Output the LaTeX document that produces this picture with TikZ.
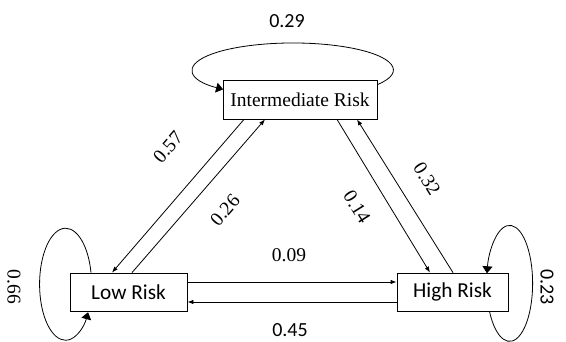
\documentclass[tikz,border=0pt]{standalone}
\usepackage{fontspec}
\setmainfont{Liberation Serif}
\newfontfamily\carlitofont{Carlito}
\usetikzlibrary{arrows.meta}
\begin{document}
\begin{tikzpicture}[x=1pt,y=1pt,
  box/.style={draw, line width=0.8pt, fill=white, inner sep=0pt, minimum height=38pt},
  serif/.style={font=\fontsize{19.5}{22}\selectfont},
  sans/.style={font=\carlitofont\fontsize{20}{22}\selectfont},
  bigsans/.style={font=\carlitofont\fontsize{21.3}{23}\selectfont},
  arr/.style={line width=0.8pt, -{Latex[length=6pt,width=4.5pt]}},
  looparr/.style={line width=0.8pt, -{Triangle[length=7pt,width=10pt]}},
  lbl/.style={inner sep=0pt}]
\useasboundingbox (0,0) rectangle (566,341);
\node[box, serif, minimum width=154pt, minimum height=39pt] (inter) at (300,241.5) {Intermediate Risk};
\node[box, bigsans, minimum width=117pt] (low) at (128.5,49) {Low Risk};
\node[box, bigsans, minimum width=111pt] (high) at (452.5,49) {High Risk};
% transitions
\draw[arr] ([xshift=-56pt]inter.south) -- ([xshift=-16.5pt]low.north);
\draw[arr] ([xshift=3.5pt]low.north) -- ([xshift=-35pt]inter.south);
\draw[arr] ([xshift=37pt]inter.south) -- ([xshift=-22.5pt]high.north);
\draw[arr] ([xshift=0.5pt]high.north) -- ([xshift=57pt]inter.south);
\draw[arr] ([yshift=10pt]low.east) -- ([yshift=10pt]high.west);
\draw[arr] ([yshift=-10pt]high.west) -- ([yshift=-10pt]low.east);
% self loops
\draw[looparr] ([yshift=14.9pt]inter.east) arc[start angle=-32.8, end angle=226, x radius=100.5, y radius=27];
\draw[looparr] ([xshift=21.4pt]low.north west) arc[start angle=12, end angle=330, x radius=26, y radius=56];
\draw[looparr] ([xshift=92.9pt]high.south west) arc[start angle=208.9, end angle=530, x radius=23, y radius=58];
% labels
\node[lbl, sans] (l29) at (287,320) {0.29};
\node[lbl, serif, rotate=49] (l57) at (168,194) {0.57};
\node[lbl, serif, rotate=49] (l26) at (225,131) {0.26};
\node[lbl, serif, rotate=-58] (l14) at (357,134) {0.14};
\node[lbl, serif, rotate=-58] (l32) at (427,162) {0.32};
\node[lbl, serif] (l09) at (289,86) {0.09};
\node[lbl, sans] (l45) at (290,11) {0.45};
\node[lbl, serif, rotate=-90] (l66) at (14,54) {0.66};
\node[lbl, sans, rotate=-90] (l23) at (547,54) {0.23};
\end{tikzpicture}
\end{document}
